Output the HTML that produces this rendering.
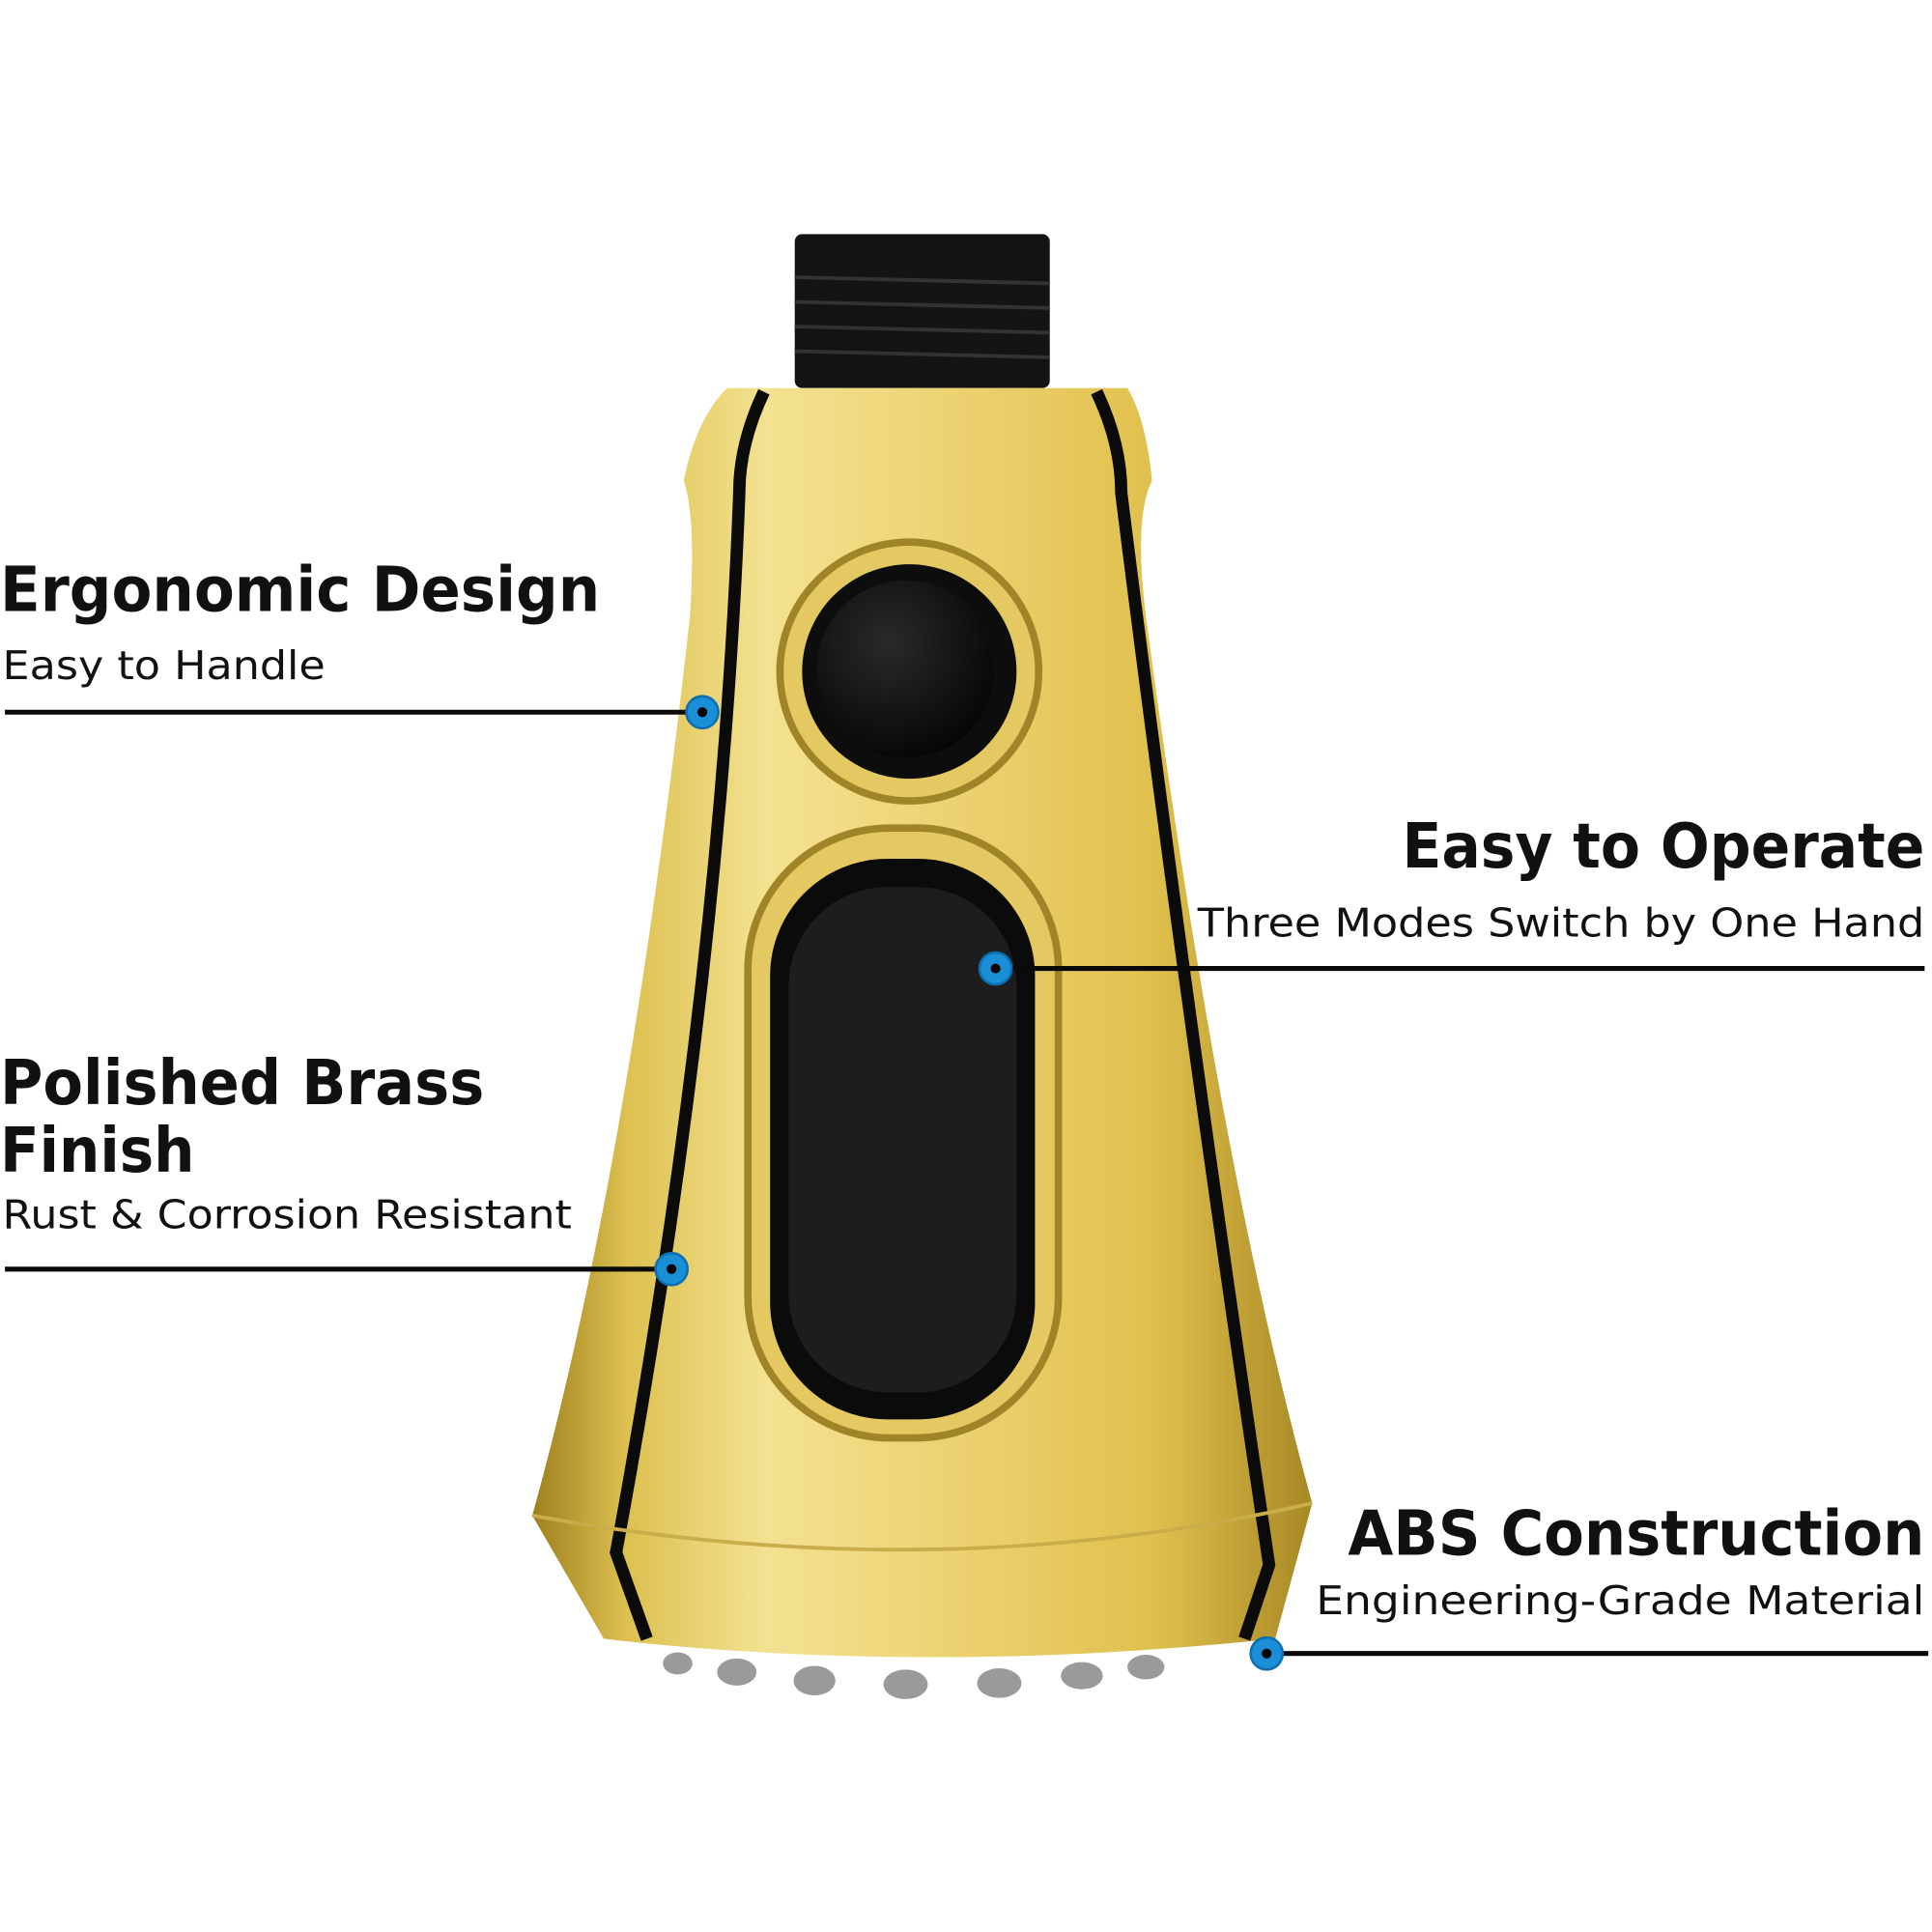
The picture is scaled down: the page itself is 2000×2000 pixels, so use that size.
<!DOCTYPE html>
<html><head><meta charset="utf-8"><style>
html,body{margin:0;padding:0;background:#fff;}
svg{display:block;}
text{font-family:"DejaVu Sans","Liberation Sans",sans-serif;fill:#111;}
.b{font-weight:bold;font-size:50px;}
.s{font-size:32px;}
</style></head><body>
<svg width="2000" height="2000" viewBox="0 0 1568 1568" xmlns="http://www.w3.org/2000/svg">
<defs>
<linearGradient id="g" x1="0" x2="1" y1="0" y2="0">
<stop offset="0" stop-color="#9e7f1e"/>
<stop offset="0.12" stop-color="#ddc050"/>
<stop offset="0.3" stop-color="#f3e291"/>
<stop offset="0.55" stop-color="#ecd170"/>
<stop offset="0.8" stop-color="#e0c04c"/>
<stop offset="1" stop-color="#a88824"/>
</linearGradient>
<radialGradient id="rb" cx="0.4" cy="0.35" r="0.7">
<stop offset="0" stop-color="#2a2a2a"/><stop offset="1" stop-color="#050505"/>
</radialGradient>
</defs>
<rect x="645" y="190" width="207" height="125" rx="6" fill="#141414"/>
<g stroke="#333" stroke-width="3">
<line x1="645" y1="225" x2="852" y2="230"/><line x1="645" y1="245" x2="852" y2="250"/>
<line x1="645" y1="265" x2="852" y2="270"/><line x1="645" y1="285" x2="852" y2="290"/>
</g>
<g fill="#9a9a9a">
<ellipse cx="550" cy="1350" rx="12" ry="9"/><ellipse cx="598" cy="1357" rx="16" ry="11"/>
<ellipse cx="661" cy="1364" rx="17" ry="12"/><ellipse cx="735" cy="1367" rx="18" ry="12"/>
<ellipse cx="811" cy="1366" rx="18" ry="12"/><ellipse cx="878" cy="1360" rx="17" ry="11"/>
<ellipse cx="930" cy="1353" rx="15" ry="10"/>
</g>
<path d="M590 315 L915 315 Q930 340 935 390 Q920 420 930 500 Q990 950 1065 1220 L1035 1330 Q750 1360 490 1330 L432 1230 Q510 950 560 500 Q565 420 555 390 Q565 340 590 315 Z" fill="url(#g)"/>
<path d="M620 318 Q600 360 600 400 Q585 800 500 1260 L525 1330" fill="none" stroke="#0b0b0b" stroke-width="10"/>
<path d="M890 318 Q910 360 910 400 Q960 800 1030 1270 L1010 1330" fill="none" stroke="#0b0b0b" stroke-width="10"/>
<path d="M432 1230 Q760 1290 1065 1220" fill="none" stroke="#c9ad4a" stroke-width="3"/>
<circle cx="738" cy="545" r="105" fill="#e4c862" stroke="#a08428" stroke-width="6"/>
<circle cx="738" cy="545" r="87" fill="#0d0d0d"/>
<circle cx="735" cy="543" r="72" fill="url(#rb)"/>
<rect x="607" y="672" width="252" height="495" rx="115" fill="#e4c862" stroke="#a08428" stroke-width="6"/>
<rect x="625" y="697" width="215" height="455" rx="95" fill="#0b0b0b"/>
<rect x="640" y="720" width="185" height="410" rx="80" fill="#1d1d1d"/>
<g stroke="#0a0a0a" stroke-width="4">
<line x1="4" y1="578" x2="560" y2="578"/>
<line x1="815" y1="786" x2="1562" y2="786"/>
<line x1="4" y1="1030" x2="535" y2="1030"/>
<line x1="1035" y1="1342" x2="1565" y2="1342"/>
</g>
<g fill="#1a8fd8" stroke="#0d6fb0" stroke-width="2">
<circle cx="570" cy="578" r="13"/><circle cx="808" cy="786" r="13"/>
<circle cx="545" cy="1030" r="13"/><circle cx="1028" cy="1342" r="13"/>
</g>
<g fill="#000"><circle cx="570" cy="578" r="4"/><circle cx="808" cy="786" r="4"/><circle cx="545" cy="1030" r="4"/><circle cx="1028" cy="1342" r="4"/></g>
<text class="b" x="0" y="496" textLength="487" lengthAdjust="spacingAndGlyphs">Ergonomic Design</text>
<text class="s" x="2" y="551" textLength="262" lengthAdjust="spacingAndGlyphs">Easy to Handle</text>
<text class="b" x="1562" y="704" text-anchor="end" textLength="424" lengthAdjust="spacingAndGlyphs">Easy to Operate</text>
<text class="s" x="1562" y="760" text-anchor="end" textLength="590" lengthAdjust="spacingAndGlyphs">Three Modes Switch by One Hand</text>
<text class="b" x="0" y="896" textLength="393" lengthAdjust="spacingAndGlyphs">Polished Brass</text>
<text class="b" x="0" y="951" textLength="158" lengthAdjust="spacingAndGlyphs">Finish</text>
<text class="s" x="2" y="997" textLength="462" lengthAdjust="spacingAndGlyphs">Rust &amp; Corrosion Resistant</text>
<text class="b" x="1562" y="1262" text-anchor="end" textLength="468" lengthAdjust="spacingAndGlyphs">ABS Construction</text>
<text class="s" x="1562" y="1310" text-anchor="end" textLength="494" lengthAdjust="spacingAndGlyphs">Engineering-Grade Material</text>
</svg>
</body></html>
